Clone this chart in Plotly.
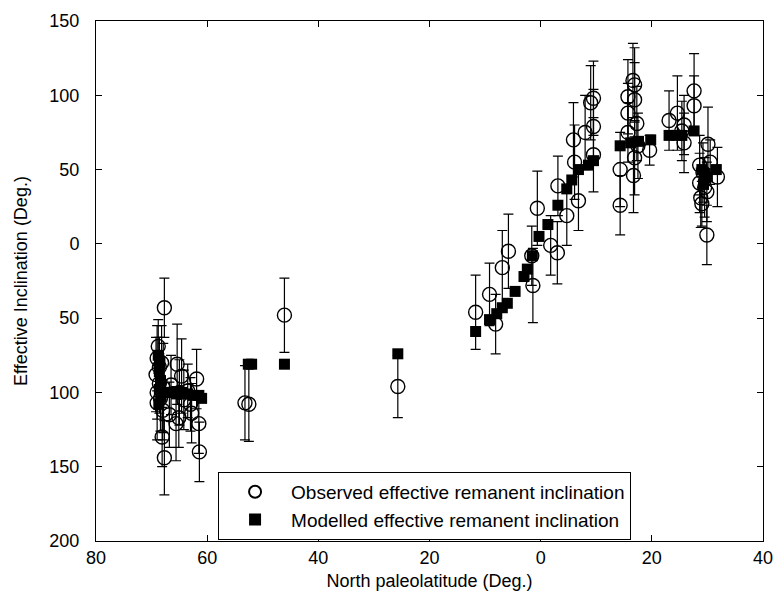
import plotly.graph_objects as go

# Observed effective remanent inclination: paleolatitude (deg, N positive), inclination (deg), error (deg)
obs_lat = [-67.7, -68.8, -69.0, -68.6, -69.2, -68.6, -69.0, -68.4, -69.0, -68.0, -68.1, -67.7, -67.9, -68.2,
           -65.4, -64.6, -65.0, -65.6, -65.1, -64.2, -63.5, -62.8, -61.9, -61.5, -61.4, -63.0, -66.5, -66.8,
           -53.2, -52.5, -46.1, -25.7,
           -11.7, -9.2, -8.1, -6.9, -5.8, -1.4, -0.6, -1.6, 1.8, 3.0, 3.1, 4.7, 5.9, 6.1, 6.8, 8.0, 9.5, 9.5, 9.5, 9.0,
           14.3, 14.3, 15.7, 15.7, 16.6, 16.9, 16.9, 17.3, 15.7, 16.9, 16.7, 17.5, 19.6,
           23.1, 24.6, 25.4, 25.8, 25.8, 27.6, 27.6, 30.1, 28.6, 28.6, 28.8, 29.9, 31.8, 29.9, 29.2, 29.5, 29.0, 30.5]
obs_inc = [-43, -69, -77, -83, -88, -94, -100, -104, -107, -112, -130, -144, -97, -80,
           -81, -89, -100, -121, -117, -105, -99, -114, -91, -121, -140, -108, -95, -115,
           -107, -108, -48, -96,
           -46, -34, -54, -16, -5, -28, 24, -8, -1, -6, 39, 19, 70, 55, 29, 75, 98, 79, 60, 95,
           50, 26, 88, 99, 110, 107, 97, 81, 75, 58, 46, 66, 63,
           83, 88, 76, 80, 68, 103, 93, 67, 53, 41, 31, 35, 45, 6, 48, 38, 27, 55]
obs_err = [20, 18, 22, 20, 25, 20, 18, 22, 25, 20, 20, 25, 30, 25,
           27, 25, 22, 25, 20, 20, 18, 20, 20, 20, 20, 18, 20, 22,
           25, 25, 25, 21,
           25, 21, 20, 25, 25, 25, 25, 20, 20, 21, 20, 20, 25, 25, 20, 25, 25, 25, 25, 25,
           25, 20, 20, 25, 25, 25, 25, 25, 20, 25, 25, 22, 10,
           20, 25, 20, 20, 20, 25, 20, 25, 20, 20, 20, 20, 20, 20, 20, 20, 15, 15]

# Modelled effective remanent inclination
mod_lat = [-68.8, -68.5, -68.6, -68.4, -68.6, -68.3, -68.7, -67.8, -66.5, -65.5, -64.5, -63.5, -62.5, -61.5, -61.0,
           -52.6, -52.0, -46.1, -25.7,
           -11.7, -9.2, -7.9, -6.9, -6.0, -4.6, -3.0, -2.4, -1.5, -0.3, 1.3, 3.1, 4.7, 5.6, 6.8, 8.6, 9.5,
           14.3, 16.2, 17.6, 19.8, 23.1, 24.5, 25.4, 27.6, 29.0, 29.5, 30.0, 31.6, 29.3]
mod_inc = [-75, -80, -86, -92, -98, -103, -108, -100, -100, -101, -100, -101, -102, -102, -104,
           -81, -81, -81, -74,
           -59, -51, -47, -43, -40, -32, -22, -17, -8, 5, 13, 26, 37, 43, 50, 53, 56,
           66, 68, 69, 70, 73, 73, 73, 76, 50, 47, 45, 50, 40]

x_ticks = [-80, -60, -40, -20, 0, 20, 40]
y_ticks = [-200, -150, -100, -50, 0, 50, 100, 150]

FONT = "Liberation Sans, Arial, Helvetica, sans-serif"

fig = go.Figure()
fig.add_trace(go.Scatter(
    x=obs_lat, y=obs_inc, mode="markers",
    name="Observed effective remanent inclination",
    marker=dict(symbol="circle-open", size=14, color="black", line=dict(width=1.4, color="black")),
    error_y=dict(type="data", array=obs_err, visible=True, color="black", thickness=1.2, width=5),
))
fig.add_trace(go.Scatter(
    x=mod_lat, y=mod_inc, mode="markers",
    name="Modelled effective remanent inclination",
    marker=dict(symbol="square", size=11, color="black", line=dict(width=0)),
))

axis_common = dict(
    showgrid=False, zeroline=False, showline=True, linecolor="black", linewidth=1,
    mirror="ticks", ticks="inside", ticklen=6, tickcolor="black", tickwidth=1,
    tickfont=dict(family=FONT, size=18, color="black"),
)
fig.update_xaxes(range=[-80, 40], tickvals=x_ticks, ticktext=[str(abs(v)) for v in x_ticks],
                 title=dict(text="North paleolatitude (Deg.)", font=dict(family=FONT, size=18, color="black"), standoff=7),
                 **axis_common)
fig.update_yaxes(range=[-200, 150], tickvals=y_ticks, ticktext=[str(abs(v)) for v in y_ticks],
                 title=dict(text="Effective Inclination (Deg.)", font=dict(family=FONT, size=18, color="black"), standoff=17),
                 ticklabelstandoff=12, **axis_common)

fig.update_layout(
    width=784, height=598,
    margin=dict(l=96, r=11, t=17, b=56),
    paper_bgcolor="white", plot_bgcolor="white",
    font=dict(family=FONT, size=18, color="black"),
    legend=dict(x=0.183, y=0.133, xanchor="left", yanchor="top",
                bgcolor="white", bordercolor="black", borderwidth=1,
                font=dict(family=FONT, size=19, color="black"), itemwidth=62,
                tracegroupgap=0, itemsizing="constant"),
    showlegend=True,
)

fig.write_html("out.html")
